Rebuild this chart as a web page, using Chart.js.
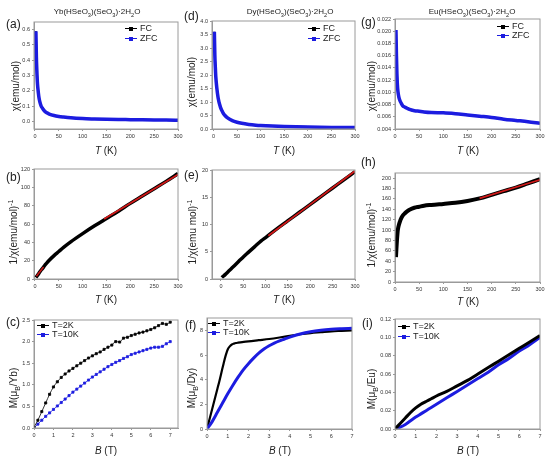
<!DOCTYPE html>
<html>
<head>
<meta charset="utf-8">
<script src="https://cdn.jsdelivr.net/npm/chart.js@4.4.0/dist/chart.umd.min.js"></script>
<style>
  body { margin: 0; background: #fff; font-family: "Liberation Sans", Arial, sans-serif; }
  #wrap { position: relative; width: 550px; height: 464px; overflow: hidden; }
  canvas { position: absolute; }
  .t { position: absolute; white-space: nowrap; color: #222; line-height: 1; }
  .ttl { font-size: 8px; transform: translateX(-50%); }
  .lab { font-size: 12px; }
  .xt { font-size: 10px; transform: translateX(-50%); }
  .yt { font-size: 10px; transform: translate(-50%, -50%) rotate(-90deg); }
  .lg { font-size: 9px; }
  .sw { display: inline-block; position: relative; width: 12px; height: 1px; vertical-align: middle; margin-right: 3px; }
  .sw::after { content: ""; position: absolute; left: 4px; top: -1.5px; width: 4px; height: 4px; background: inherit; }
  sub, sup { font-size: 70%; line-height: 0; }
</style>
</head>
<body>
<div id="wrap"></div>
<script>
// ---- data ----
// Yb : chi(T) and 1/chi(T)
const ybT = [2, 3, 4, 5, 6, 8, 10, 13, 16, 20, 25, 30, 40, 50, 60, 75, 100, 125, 150, 175, 200, 225, 250, 275, 300];
const ybChi = [0.59, 0.42, 0.33, 0.26, 0.22, 0.165, 0.13, 0.1, 0.085, 0.068, 0.056, 0.048, 0.038, 0.032, 0.028, 0.023, 0.018, 0.0155, 0.0135, 0.012, 0.011, 0.0099, 0.0091, 0.0084, 0.0078];
const ybInv = [1.7, 2.4, 3.0, 3.8, 4.5, 6.0, 7.6, 9.8, 11.5, 14.5, 17.6, 20.5, 25.5, 30, 34.5, 40.5, 49.5, 58, 66, 74, 82.5, 90.5, 98.5, 106.5, 115];
const ybFitT = [145, 300];
const ybFit = [65.5, 114];
const ybLowFitT = [3, 18];
const ybLowFit = [3, 13];

// Dy
const dyT = [2, 3, 4, 5, 7, 10, 15, 20, 25, 30, 40, 50, 60, 75, 90, 100, 125, 150, 175, 200, 225, 250, 275, 300];
const dyChi = [3.6, 2.75, 2.3, 1.95, 1.55, 1.15, 0.8, 0.61, 0.49, 0.41, 0.31, 0.25, 0.21, 0.17, 0.143, 0.13, 0.108, 0.093, 0.082, 0.073, 0.066, 0.06, 0.055, 0.051];
const dyInv = [0.28, 0.36, 0.43, 0.5, 0.63, 0.85, 1.25, 1.65, 2.05, 2.45, 3.25, 4.05, 4.8, 5.9, 7.0, 7.6, 9.2, 10.7, 12.2, 13.7, 15.2, 16.7, 18.2, 19.7];
const dyFitT = [106, 300];
const dyFit = [7.95, 19.8];

// Eu
const euT = [2, 3, 4, 5, 6, 8, 10, 13, 16, 20, 25, 30, 40, 50, 60, 75, 100, 125, 150, 175, 200, 225, 250, 275, 300];
const euChi = [0.0202, 0.016, 0.013, 0.0112, 0.0102, 0.0092, 0.0087, 0.0082, 0.0078, 0.0076, 0.0074, 0.0072, 0.007, 0.0069, 0.0068, 0.0067, 0.00665, 0.0065, 0.0063, 0.0061, 0.0059, 0.0056, 0.0054, 0.0052, 0.00495];
const euInv = [48, 65, 80, 92, 101, 110, 116, 123, 128, 132, 136, 139, 143, 145, 147, 148.5, 150.5, 152.5, 156, 161, 168, 175, 182, 190, 198];
const euFitT = [175, 300];
const euFit = [161, 197];

// M(B) curves
const ybB = [0, 0.2, 0.4, 0.6, 0.8, 1.0, 1.2, 1.4, 1.6, 1.8, 2.0, 2.2, 2.4, 2.6, 2.8, 3.0, 3.2, 3.4, 3.6, 3.8, 4.0, 4.2, 4.4, 4.6, 4.8, 5.0, 5.2, 5.4, 5.6, 5.8, 6.0, 6.2, 6.4, 6.6, 6.8, 7.0];
const ybM2K = [0.02, 0.18, 0.38, 0.58, 0.78, 0.95, 1.07, 1.17, 1.25, 1.32, 1.38, 1.44, 1.5, 1.56, 1.62, 1.67, 1.72, 1.76, 1.82, 1.87, 1.92, 2.0, 1.99, 2.08, 2.1, 2.14, 2.17, 2.2, 2.22, 2.25, 2.28, 2.32, 2.37, 2.42, 2.4, 2.45];
const ybM10K = [0, 0.09, 0.18, 0.27, 0.35, 0.43, 0.51, 0.59, 0.67, 0.75, 0.83, 0.9, 0.97, 1.04, 1.11, 1.18, 1.24, 1.3, 1.36, 1.42, 1.47, 1.52, 1.56, 1.61, 1.65, 1.7, 1.73, 1.76, 1.79, 1.82, 1.85, 1.87, 1.87, 1.89, 1.95, 2.0];

const dyB2K = [0, 0.1, 0.2, 0.3, 0.4, 0.5, 0.6, 0.7, 0.8, 0.9, 1.0, 1.1, 1.2, 1.3, 1.4, 1.5, 1.7, 2.0, 2.5, 3.0, 3.5, 4.0, 4.5, 5.0, 5.5, 6.0, 6.5, 7.0];
const dyM2K = [0, 0.65, 1.3, 1.95, 2.6, 3.25, 3.9, 4.6, 5.3, 5.95, 6.45, 6.7, 6.85, 6.92, 6.97, 7.0, 7.05, 7.1, 7.2, 7.3, 7.42, 7.55, 7.68, 7.78, 7.85, 7.92, 7.96, 8.0];
const dyB10K = [0, 0.25, 0.5, 0.75, 1.0, 1.25, 1.5, 1.75, 2.0, 2.25, 2.5, 2.75, 3.0, 3.25, 3.5, 3.75, 4.0, 4.5, 5.0, 5.5, 6.0, 6.5, 7.0];
const dyM10K = [0, 0.6, 1.35, 2.1, 2.85, 3.55, 4.2, 4.8, 5.3, 5.75, 6.15, 6.48, 6.75, 6.97, 7.15, 7.3, 7.45, 7.7, 7.88, 8.0, 8.08, 8.13, 8.17];

const euB = [0, 0.25, 0.5, 0.75, 1.0, 1.25, 1.5, 1.75, 2.0, 2.5, 3.0, 3.5, 4.0, 4.5, 5.0, 5.5, 6.0, 6.5, 7.0];
const euM2K = [0, 0.006, 0.012, 0.018, 0.023, 0.027, 0.03, 0.033, 0.036, 0.041, 0.047, 0.053, 0.06, 0.067, 0.074, 0.081, 0.088, 0.095, 0.102];
const euM10K = [0, 0.002, 0.005, 0.009, 0.013, 0.0165, 0.02, 0.0235, 0.027, 0.034, 0.041, 0.048, 0.055, 0.062, 0.07, 0.077, 0.085, 0.092, 0.1];

// tick values
const tTicks = [0, 50, 100, 150, 200, 250, 300];
const bTicks = [0, 1, 2, 3, 4, 5, 6, 7];
const ybChiTicks = [0, 0.1, 0.2, 0.3, 0.4, 0.5, 0.6];
const dyChiTicks = [0, 0.5, 1.0, 1.5, 2.0, 2.5, 3.0, 3.5, 4.0];
const euChiTicks = [0.004, 0.006, 0.008, 0.01, 0.012, 0.014, 0.016, 0.018, 0.02, 0.022];
const ybInvTicks = [0, 20, 40, 60, 80, 100, 120];
const dyInvTicks = [0, 5, 10, 15, 20];
const euInvTicks = [0, 20, 40, 60, 80, 100, 120, 140, 160, 180, 200];
const ybMTicks = [0, 0.5, 1.0, 1.5, 2.0, 2.5];
const dyMTicks = [0, 2, 4, 6, 8];
const euMTicks = [0, 0.02, 0.04, 0.06, 0.08, 0.1, 0.12];

const BLUE = "#1c1ce0";
const RED = "#d01818";
const wrap = document.getElementById("wrap");

function pts(xs, ys) {
  return xs.map((x, i) => ({ x: x, y: ys[i] }));
}

// thick curve (dense markers in the original look like a band)
function band(label, xs, ys, color, w) {
  return {
    label: label, data: pts(xs, ys), showLine: true,
    borderColor: color, backgroundColor: color, borderWidth: w,
    pointRadius: 0, cubicInterpolationMode: "monotone",
  };
}

// separate square markers joined by a thin line
function dots(label, xs, ys, color) {
  return {
    label: label, data: pts(xs, ys), showLine: true,
    borderColor: color, backgroundColor: color, borderWidth: 0.8,
    pointRadius: 1.5, pointStyle: "rect", cubicInterpolationMode: "monotone",
  };
}

// grey box around the plot area
const frame = {
  id: "frame",
  afterDraw(chart) {
    const a = chart.chartArea, c = chart.ctx;
    c.save();
    c.strokeStyle = "#9a9a9a";
    c.lineWidth = 1;
    c.strokeRect(a.left, a.top, a.right - a.left, a.bottom - a.top);
    c.restore();
  },
};

function axis(range, ticks, dec, isX) {
  return {
    type: "linear", min: range[0], max: range[1],
    afterFit: (s) => { if (isX) s.height = 20; else s.width = 30; },
    afterBuildTicks: (s) => { s.ticks = ticks.map((v) => ({ value: v })); },
    ticks: {
      autoSkip: false, maxRotation: 0, padding: 2, color: "#333",
      font: { size: 5.5, family: "Liberation Sans" },
      callback: (v) => Number(v).toFixed(dec),
    },
    grid: { drawOnChartArea: false, tickLength: 2, color: "#9a9a9a" },
    border: { color: "#9a9a9a" },
  };
}

// box = [left, top, right, bottom] of the plot area on the page
function makePanel(p) {
  const cv = document.createElement("canvas");
  const w = p.box[2] - p.box[0] + 38;
  const h = p.box[3] - p.box[1] + 20;
  cv.width = w; cv.height = h;
  cv.style.width = w + "px"; cv.style.height = h + "px";
  cv.style.left = (p.box[0] - 30) + "px";
  cv.style.top = (p.box[1] - 8) + "px";
  wrap.appendChild(cv);
  new Chart(cv, {
    type: "scatter",
    data: { datasets: p.datasets },
    options: {
      responsive: false, animation: false,
      layout: { padding: { left: 0, top: 8, right: 8, bottom: 0 } },
      plugins: { legend: { display: false }, tooltip: { enabled: false } },
      scales: {
        x: axis(p.xr, p.xt, p.xd, true),
        y: axis(p.yr, p.yt, p.yd, false),
      },
    },
    plugins: [frame],
  });
}

const panels = [
  { box: [34, 22, 178, 137], xr: [-2, 300], xt: tTicks, xd: 0, yr: [-0.05, 0.65], yt: ybChiTicks, yd: 1,
    datasets: [band("ZFC", ybT, ybChi, BLUE, 3.5), band("FC", ybT, ybChi, "#000", 2)] },
  { box: [212, 21, 355, 137], xr: [-3, 300], xt: tTicks, xd: 0, yr: [0, 4], yt: dyChiTicks, yd: 1,
    datasets: [band("ZFC", dyT, dyChi, BLUE, 3.5), band("FC", dyT, dyChi, "#000", 2)] },
  { box: [395, 19, 540, 137], xr: [0, 300], xt: tTicks, xd: 0, yr: [0.004, 0.022], yt: euChiTicks, yd: 3,
    datasets: [band("ZFC", euT, euChi, BLUE, 3.5), band("FC", euT, euChi, "#000", 2)] },

  { box: [34, 169, 178, 287], xr: [-2, 300], xt: tTicks, xd: 0, yr: [0, 120], yt: ybInvTicks, yd: 0,
    datasets: [band("fit", ybFitT, ybFit, RED, 1.8), band("fit", ybLowFitT, ybLowFit, RED, 1.5), band("1/chi", ybT, ybInv, "#000", 3.5)] },
  { box: [212, 170, 355, 287], xr: [-20, 300], xt: tTicks, xd: 0, yr: [0, 20], yt: dyInvTicks, yd: 0,
    datasets: [band("fit", dyFitT, dyFit, RED, 1.8), band("1/chi", dyT, dyInv, "#000", 3.5)] },
  { box: [395, 173, 540, 290], xr: [0, 300], xt: tTicks, xd: 0, yr: [0, 210], yt: euInvTicks, yd: 0,
    datasets: [band("fit", euFitT, euFit, RED, 1.8), band("1/chi", euT, euInv, "#000", 4)] },

  { box: [34, 320, 178, 436], xr: [0, 7.4], xt: bTicks, xd: 0, yr: [0, 2.5], yt: ybMTicks, yd: 1,
    datasets: [dots("T=2K", ybB, ybM2K, "#000"), dots("T=10K", ybB, ybM10K, BLUE)] },
  { box: [207, 318, 352, 437], xr: [0, 7], xt: bTicks, xd: 0, yr: [0, 9], yt: dyMTicks, yd: 0,
    datasets: [band("T=10K", dyB10K, dyM10K, BLUE, 3), band("T=2K", dyB2K, dyM2K, "#000", 2.2)] },
  { box: [395, 319, 540, 437], xr: [0, 7], xt: bTicks, xd: 0, yr: [0, 0.12], yt: euMTicks, yd: 2,
    datasets: [band("T=2K", euB, euM2K, "#000", 3), band("T=10K", euB, euM10K, BLUE, 3)] },
];

panels.forEach(makePanel);

// ---- text overlays ----
function txt(cls, x, y, html) {
  const d = document.createElement("div");
  d.className = "t " + cls;
  d.style.left = x + "px";
  d.style.top = y + "px";
  d.innerHTML = html;
  wrap.appendChild(d);
}

const formula = (el) => el + "(HSeO<sub>3</sub>)(SeO<sub>3</sub>)·2H<sub>2</sub>O";
txt("ttl", 97, 8, formula("Yb"));
txt("ttl", 290, 8, formula("Dy"));
txt("ttl", 472, 8, formula("Eu"));

txt("lab", 6, 18, "(a)"); txt("lab", 184, 10, "(d)"); txt("lab", 361, 16, "(g)");
txt("lab", 6, 171, "(b)"); txt("lab", 184, 169, "(e)"); txt("lab", 361, 156, "(h)");
txt("lab", 6, 316, "(c)"); txt("lab", 185, 319, "(f)"); txt("lab", 362, 317, "(i)");

const tk = "<i>T</i> (K)", bt = "<i>B</i> (T)";
txt("xt", 106, 146, tk); txt("xt", 284, 146, tk); txt("xt", 468, 146, tk);
txt("xt", 106, 295, tk); txt("xt", 284, 295, tk); txt("xt", 468, 297, tk);
txt("xt", 106, 446, bt); txt("xt", 280, 446, bt); txt("xt", 468, 446, bt);

txt("yt", 16, 86, "χ(emu/mol)");
txt("yt", 192, 82, "χ(emu/mol)");
txt("yt", 372, 86, "χ(emu/mol)");
txt("yt", 14, 232, "1/χ(emu/mol)<sup>-1</sup>");
txt("yt", 193, 232, "1/χ(emu mol)<sup>-1</sup>");
txt("yt", 372, 235, "1/χ(emu/mol)<sup>-1</sup>");
txt("yt", 14, 388, "M(μ<sub>B</sub>/Yb)");
txt("yt", 192, 388, "M(μ<sub>B</sub>/Dy)");
txt("yt", 372, 389, "M(μ<sub>B</sub>/Eu)");

function legend(x, y, color, label) {
  txt("lg", x, y - 5, '<span class="sw" style="background:' + color + '"></span>' + label);
}
legend(125, 29, "#000", "FC"); legend(125, 39, BLUE, "ZFC");
legend(308, 29, "#000", "FC"); legend(308, 39, BLUE, "ZFC");
legend(497, 27, "#000", "FC"); legend(497, 36, BLUE, "ZFC");
legend(37, 326, "#000", "T=2K"); legend(37, 335, BLUE, "T=10K");
legend(208, 324, "#000", "T=2K"); legend(208, 333, BLUE, "T=10K");
legend(398, 327, "#000", "T=2K"); legend(398, 337, BLUE, "T=10K");
</script>
</body>
</html>
